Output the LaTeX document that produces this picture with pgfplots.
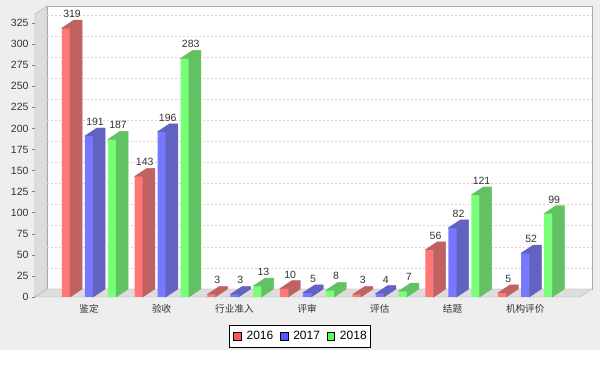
\documentclass[border=0pt]{standalone}
\usepackage{pgfplots}
\pgfplotsset{compat=1.18}
\usepackage{pgfplotstable}
\usepackage{fontspec}
\setmainfont{Liberation Sans}
\newfontfamily\cjk{Noto Sans CJK SC}
\definecolor{bggray}{HTML}{EEEEEE}
\definecolor{wallgray}{HTML}{DDDDDD}
\definecolor{bordergray}{HTML}{AAAAAA}
\definecolor{gridpink}{HTML}{FFC4CC}
\definecolor{fr}{HTML}{FF7777}
\definecolor{sr}{HTML}{C16262}
\definecolor{fb}{HTML}{7777FF}
\definecolor{sb}{HTML}{6262C1}
\definecolor{fg}{HTML}{77FF77}
\definecolor{sg}{HTML}{62C162}
\definecolor{lr}{HTML}{FF5555}
\definecolor{lb}{HTML}{5555FF}
\definecolor{lg}{HTML}{55FF55}
\definecolor{txt}{HTML}{333333}
\pgfdeclareplotmark{nothing}{}
\pgfplotstableread{
x a b c
0 319 191 187
1 143 196 283
2 3 3 13
3 10 5 8
4 3 4 7
5 56 82 121
6 5 52 99
}\datatable
\def\yu{0.843}
\pgfplotsset{
  face3d/.style n args={3}{%
    forget plot, scatter, only marks, mark=nothing,
    visualization depends on={\thisrow{#1}*\yu \as \h},
    visualization depends on={\thisrow{#1} \as \v},
    scatter/@pre marker code/.code={%
      \fill[#3] (#2-4.15pt,0pt) -- (#2+7.85pt,8pt) -- (#2+16.15pt,8pt) -- (#2+16.15pt,8pt-\h pt) -- (#2+4.15pt,-\h pt) -- (#2+4.15pt,0pt) -- cycle;
      \node[anchor=base, font=\fontsize{10.5}{12}\selectfont, text=txt, inner sep=0pt] at (#2+6pt,10.5pt) {\pgfmathprintnumber[fixed,precision=0]{\v}};
    },
    scatter/@post marker code/.code={},
  },
  front/.style n args={2}{%
    forget plot, ybar, bar width=8.3pt, bar shift=#1, fill=#2, draw=none,
  },
}
\begin{document}
\begin{tikzpicture}
\useasboundingbox (-35pt,-69pt) rectangle (576pt,297pt);
\fill[white] (-35pt,-69pt) rectangle (576pt,297pt);
\fill[bggray] (-35pt,-53pt) rectangle (565pt,297pt);
\filldraw[fill=white, draw=bordergray] (12pt,8pt) rectangle (557pt,291pt);
\filldraw[fill=wallgray, draw=bordergray] (0pt,0pt) -- (0pt,283pt) -- (12pt,291pt) -- (12pt,8pt) -- cycle;
\filldraw[fill=wallgray, draw=bordergray] (0pt,0pt) -- (545pt,0pt) -- (557pt,8pt) -- (12pt,8pt) -- cycle;
\begin{axis}[
  at={(0pt,0pt)}, anchor=south west,
  x=72.7pt, y=0.843pt,
  xmin=-0.743, xmax=6.754, ymin=0, ymax=335.7,
  clip=false,
  axis x line*=bottom, axis y line*=left,
  axis line style={draw=none},
  xtick={0,1,2,3,4,5,6},
  xticklabels={鉴定,验收,行业准入,评审,评估,结题,机构评价},
  ytick={0,25,...,325},
  xtick align=inside, ytick align=outside,
  major tick length=3pt,
  xtick style={draw=none},
  ytick style={draw=gray, line width=0.5pt},
  ymajorgrids,
  major grid style={draw=gridpink, dash pattern=on 2pt off 2pt, line width=0.6pt, xshift=12pt, yshift=8pt},
  /pgf/number format/assume math mode=true,
  yticklabel style={font=\fontsize{10.5}{12}\selectfont, text=txt},
  xticklabel style={font=\cjk\fontsize{9.6}{11}\selectfont, text=txt, anchor=base, yshift=-15.3pt},
  legend columns=3,
  legend image code/.code={\fill[#1] (0pt,-3.8pt) rectangle (7.5pt,3.8pt);},
  legend style={at={(axis description cs:0.4862,-0.1396)}, anchor=center,
    draw=black, fill=white, line width=0.8pt, inner xsep=3.6pt, inner ysep=6pt,
    font=\fontsize{12}{14}\selectfont,
    nodes={inner sep=0pt, text=black},
    /tikz/every odd column/.append style={column sep=5pt},
    /tikz/every even column/.append style={column sep=6.7pt}},
]
\addplot[front={-23pt}{fr}] table[x=x,y=a]{\datatable};
\addplot[front={0pt}{fb}] table[x=x,y=b]{\datatable};
\addplot[front={23pt}{fg}] table[x=x,y=c]{\datatable};
\addplot[face3d={a}{-23pt}{sr}] table[x=x,y=a]{\datatable};
\addplot[face3d={b}{0pt}{sb}] table[x=x,y=b]{\datatable};
\addplot[face3d={c}{23pt}{sg}] table[x=x,y=c]{\datatable};
\addlegendimage{fill=lr}
\addlegendentry{2016}
\addlegendimage{fill=lb}
\addlegendentry{2017}
\addlegendimage{fill=lg}
\addlegendentry{2018}
\end{axis}
\end{tikzpicture}
\end{document}
